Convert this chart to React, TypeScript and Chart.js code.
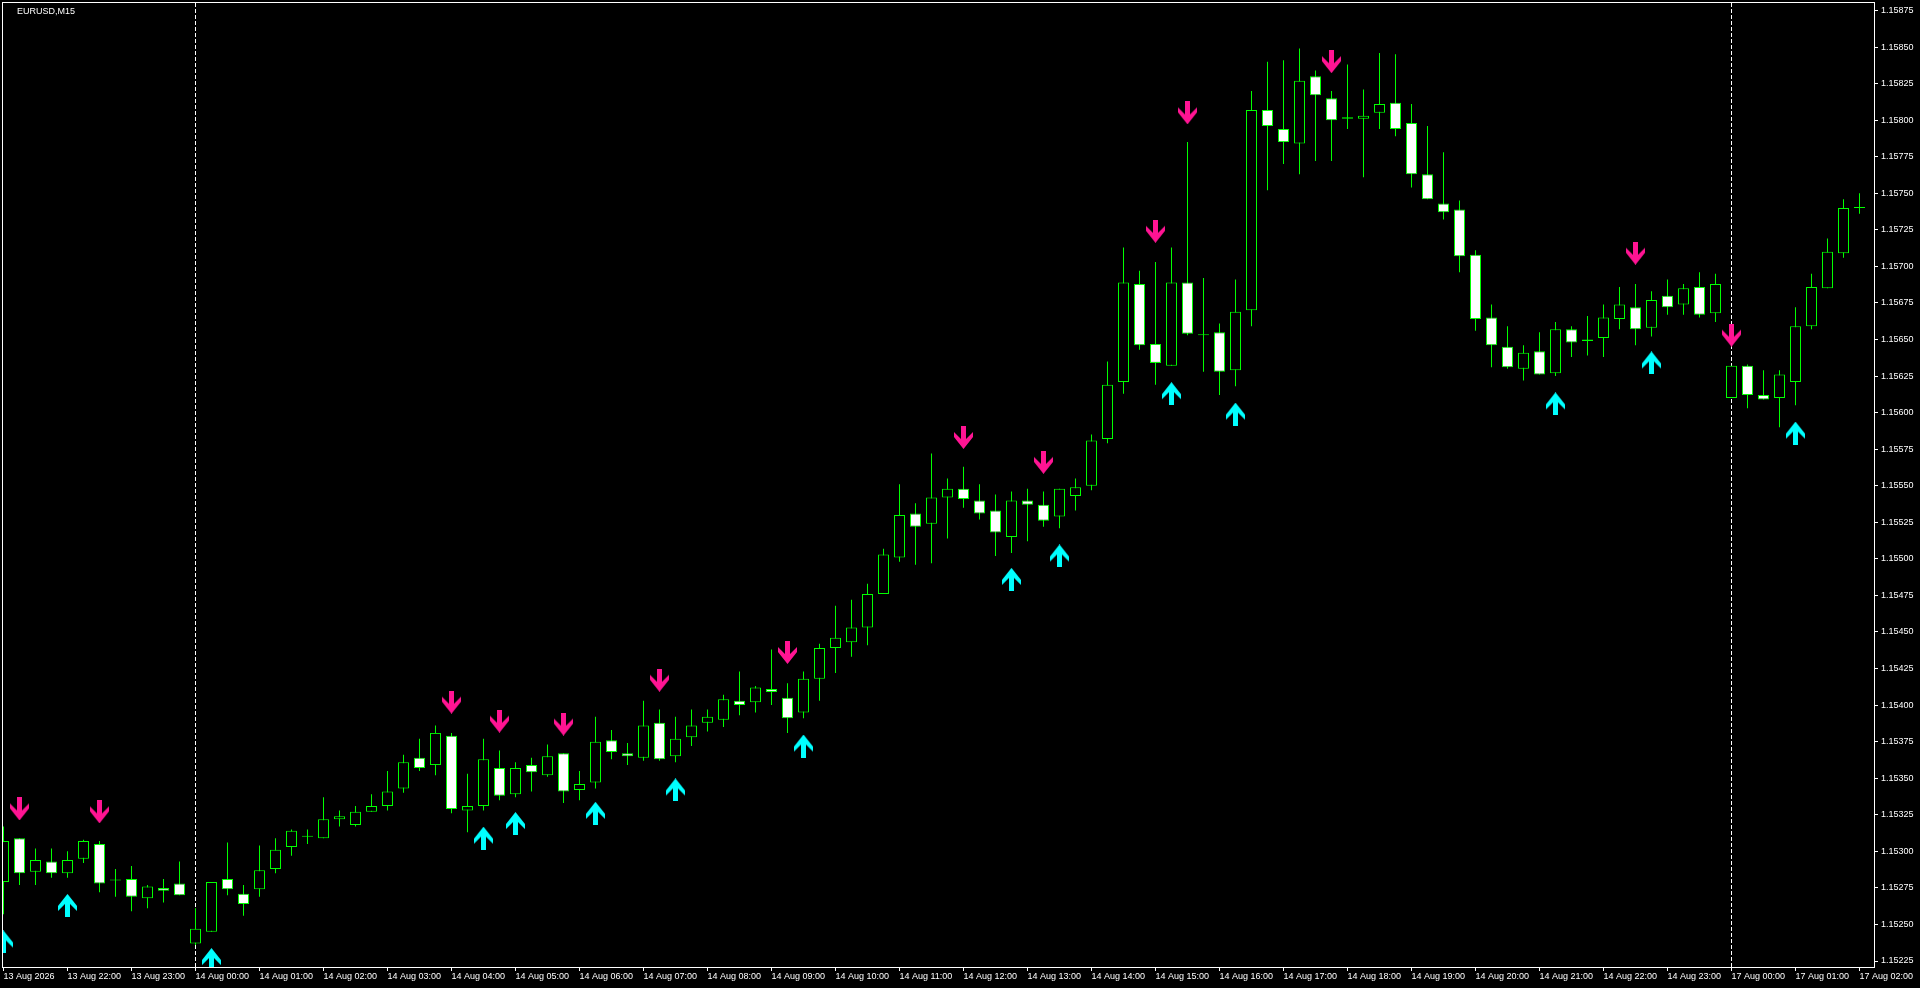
import React, { useEffect, useRef } from "react";
import { Chart, registerables } from "chart.js";

Chart.register(...registerables);

// ---- data (EURUSD M15, 13 Aug 2026 21:00 -> 17 Aug 2026 02:00) ----
const opens = [
  1.15279, 1.15309, 1.15286, 1.15293, 1.15285, 1.15295, 1.15305, 1.15280, 1.15281, 1.15268,
  1.15275, 1.15278, 1.15237, 1.15245, 1.15281, 1.15271, 1.15274, 1.15288, 1.15303, 1.15310,
  1.15309, 1.15322, 1.15318, 1.15327, 1.15331, 1.15343, 1.15364, 1.15359, 1.15379, 1.15328,
  1.15331, 1.15357, 1.15339, 1.15359, 1.15352, 1.15367, 1.15342, 1.15347, 1.15376, 1.15367,
  1.15364, 1.15388, 1.15365, 1.15378, 1.15388, 1.15390, 1.15403, 1.15402, 1.15411, 1.15405,
  1.15395, 1.15418, 1.15439, 1.15443, 1.15453, 1.15476, 1.15501, 1.15531, 1.15524, 1.15542,
  1.15548, 1.15540, 1.15533, 1.15515, 1.15540, 1.15537, 1.15529, 1.15543, 1.15550, 1.15582,
  1.15621, 1.15688, 1.15647, 1.15632, 1.15689, 1.15653, 1.15655, 1.15629, 1.15670, 1.15807,
  1.15794, 1.15784, 1.15830, 1.15815, 1.15801, 1.15801, 1.15805, 1.15812, 1.15798, 1.15763,
  1.15743, 1.15739, 1.15708, 1.15665, 1.15645, 1.15630, 1.15642, 1.15627, 1.15657, 1.15649,
  1.15651, 1.15664, 1.15672, 1.15658, 1.15680, 1.15674, 1.15686, 1.15668, 1.15610, 1.15632,
  1.15612, 1.15610, 1.15621, 1.15659, 1.15685, 1.15709, 1.15740,
];
const highs = [
  1.15317, 1.15309, 1.15302, 1.15302, 1.15300, 1.15308, 1.15307, 1.15288, 1.15290, 1.15277,
  1.15281, 1.15293, 1.15261, 1.15279, 1.15306, 1.15277, 1.15304, 1.15309, 1.15315, 1.15315,
  1.15337, 1.15328, 1.15331, 1.15339, 1.15355, 1.15366, 1.15377, 1.15386, 1.15381, 1.15353,
  1.15377, 1.15369, 1.15361, 1.15364, 1.15373, 1.15367, 1.15355, 1.15392, 1.15383, 1.15374,
  1.15403, 1.15397, 1.15392, 1.15397, 1.15397, 1.15407, 1.15423, 1.15413, 1.15438, 1.15415,
  1.15423, 1.15442, 1.15468, 1.15472, 1.15483, 1.15507, 1.15551, 1.15538, 1.15572, 1.15555,
  1.15563, 1.15551, 1.15544, 1.15546, 1.15548, 1.15546, 1.15548, 1.15555, 1.15585, 1.15635,
  1.15713, 1.15697, 1.15703, 1.15713, 1.15785, 1.15692, 1.15661, 1.15691, 1.15820, 1.15840,
  1.15841, 1.15849, 1.15834, 1.15820, 1.15838, 1.15821, 1.15846, 1.15845, 1.15811, 1.15796,
  1.15778, 1.15745, 1.15711, 1.15674, 1.15659, 1.15646, 1.15655, 1.15662, 1.15659, 1.15666,
  1.15674, 1.15686, 1.15688, 1.15683, 1.15691, 1.15688, 1.15696, 1.15695, 1.15632, 1.15633,
  1.15629, 1.15629, 1.15672, 1.15695, 1.15719, 1.15746, 1.15750,
];
const lows = [
  1.15257, 1.15277, 1.15277, 1.15282, 1.15282, 1.15292, 1.15272, 1.15269, 1.15259, 1.15261,
  1.15265, 1.15270, 1.15236, 1.15245, 1.15270, 1.15256, 1.15269, 1.15285, 1.15297, 1.15305,
  1.15309, 1.15317, 1.15317, 1.15327, 1.15328, 1.15340, 1.15355, 1.15352, 1.15326, 1.15313,
  1.15328, 1.15335, 1.15337, 1.15341, 1.15351, 1.15333, 1.15335, 1.15343, 1.15363, 1.15359,
  1.15362, 1.15362, 1.15361, 1.15372, 1.15382, 1.15385, 1.15393, 1.15395, 1.15400, 1.15381,
  1.15391, 1.15403, 1.15422, 1.15433, 1.15441, 1.15476, 1.15498, 1.15496, 1.15497, 1.15514,
  1.15535, 1.15527, 1.15502, 1.15504, 1.15512, 1.15522, 1.15521, 1.15533, 1.15547, 1.15579,
  1.15613, 1.15643, 1.15619, 1.15632, 1.15653, 1.15628, 1.15612, 1.15618, 1.15659, 1.15752,
  1.15770, 1.15763, 1.15772, 1.15772, 1.15794, 1.15761, 1.15794, 1.15789, 1.15754, 1.15746,
  1.15732, 1.15696, 1.15656, 1.15631, 1.15630, 1.15622, 1.15626, 1.15625, 1.15638, 1.15639,
  1.15638, 1.15657, 1.15646, 1.15652, 1.15667, 1.15667, 1.15665, 1.15662, 1.15610, 1.15603,
  1.15609, 1.15590, 1.15605, 1.15657, 1.15685, 1.15706, 1.15736,
];
const closes = [
  1.15307, 1.15285, 1.15294, 1.15285, 1.15294, 1.15307, 1.15278, 1.15280, 1.15269, 1.15276,
  1.15273, 1.15270, 1.15247, 1.15279, 1.15274, 1.15264, 1.15287, 1.15301, 1.15314, 1.15310,
  1.15322, 1.15324, 1.15327, 1.15331, 1.15341, 1.15361, 1.15357, 1.15381, 1.15329, 1.15331,
  1.15363, 1.15338, 1.15357, 1.15354, 1.15365, 1.15341, 1.15346, 1.15375, 1.15368, 1.15365,
  1.15386, 1.15363, 1.15377, 1.15386, 1.15392, 1.15404, 1.15400, 1.15412, 1.15409, 1.15391,
  1.15418, 1.15439, 1.15446, 1.15453, 1.15476, 1.15503, 1.15530, 1.15522, 1.15542, 1.15548,
  1.15541, 1.15531, 1.15518, 1.15540, 1.15537, 1.15526, 1.15548, 1.15549, 1.15581, 1.15619,
  1.15689, 1.15646, 1.15634, 1.15689, 1.15654, 1.15653, 1.15628, 1.15669, 1.15807, 1.15796,
  1.15785, 1.15827, 1.15817, 1.15800, 1.15802, 1.15803, 1.15811, 1.15794, 1.15763, 1.15746,
  1.15737, 1.15707, 1.15664, 1.15646, 1.15631, 1.15641, 1.15626, 1.15657, 1.15648, 1.15650,
  1.15665, 1.15674, 1.15657, 1.15677, 1.15672, 1.15685, 1.15667, 1.15688, 1.15632, 1.15612,
  1.15609, 1.15626, 1.15659, 1.15686, 1.15710, 1.15740, 1.15740,
];

const xTickIndex = [
  0, 4, 8, 12, 16, 20, 24, 28, 32, 36, 40, 44, 48, 52, 56,
  60, 64, 68, 72, 76, 80, 84, 88, 92, 96, 100, 104, 108, 112, 116,
];
const xTickLabels = [
  "13 Aug 2026", "13 Aug 22:00", "13 Aug 23:00", "14 Aug 00:00", "14 Aug 01:00",
  "14 Aug 02:00", "14 Aug 03:00", "14 Aug 04:00", "14 Aug 05:00", "14 Aug 06:00",
  "14 Aug 07:00", "14 Aug 08:00", "14 Aug 09:00", "14 Aug 10:00", "14 Aug 11:00",
  "14 Aug 12:00", "14 Aug 13:00", "14 Aug 14:00", "14 Aug 15:00", "14 Aug 16:00",
  "14 Aug 17:00", "14 Aug 18:00", "14 Aug 19:00", "14 Aug 20:00", "14 Aug 21:00",
  "14 Aug 22:00", "14 Aug 23:00", "17 Aug 00:00", "17 Aug 01:00", "17 Aug 02:00",
];
const yTicks = [
  1.15225, 1.1525, 1.15275, 1.153, 1.15325, 1.1535, 1.15375, 1.154, 1.15425,
  1.1545, 1.15475, 1.155, 1.15525, 1.1555, 1.15575, 1.156, 1.15625, 1.1565,
  1.15675, 1.157, 1.15725, 1.1575, 1.15775, 1.158, 1.15825, 1.1585, 1.15875,
];
const daySeparators = [12, 108];

const downArrowIdx = [1, 6, 28, 31, 35, 41, 49, 60, 65, 72, 74, 83, 102, 108];
const downArrowPrice = [
  1.15329, 1.15327, 1.15402, 1.15389, 1.15387, 1.15417, 1.15436, 1.15583, 1.15566,
  1.15724, 1.15805, 1.1584, 1.15709, 1.15653,
];
const upArrowIdx = [0, 4, 13, 30, 32, 37, 42, 50, 63, 66, 73, 77, 97, 103, 112];
const upArrowPrice = [
  1.15238, 1.15263, 1.15226, 1.15309, 1.15319, 1.15326, 1.15342, 1.15372, 1.15486,
  1.15502, 1.15613, 1.15599, 1.15606, 1.15634, 1.15586,
];

const symbolTitle = "EURUSD,M15";

const X_MIN = -0.03125;
const X_MAX = 116.90625;
const Y_MIN = 1.152209;
const Y_MAX = 1.1588013;

const GREEN = "#00ff00";
const PINK = "#ff1493";
const CYAN = "#00ffff";
const FONT = "Liberation Sans";

function makeArrow(color: string, up: boolean): HTMLCanvasElement {
  const c = document.createElement("canvas");
  c.width = 19;
  c.height = 23;
  const ctx = c.getContext("2d")!;
  const pts: [number, number][] = [
    [7, 0], [12, 0], [12, 13], [19, 6], [19, 11], [9.5, 23], [0, 11], [0, 6], [7, 13],
  ];
  ctx.fillStyle = color;
  ctx.beginPath();
  pts.forEach(([px, py], i) => {
    const yy = up ? 23 - py : py;
    if (i === 0) ctx.moveTo(px, yy);
    else ctx.lineTo(px, yy);
  });
  ctx.closePath();
  ctx.fill();
  return c;
}

const mtPlugin = {
  id: "mtDecor",
  beforeDraw(chart: any) {
    const ctx = chart.ctx;
    ctx.save();
    ctx.fillStyle = "#000000";
    ctx.fillRect(0, 0, chart.width, chart.height);
    ctx.restore();
  },
  beforeDatasetsDraw(chart: any) {
    const ctx = chart.ctx;
    const a = chart.chartArea;
    const xs = chart.scales.x;
    ctx.save();
    ctx.strokeStyle = "#ffffff";
    ctx.lineWidth = 1;
    ctx.setLineDash([4, 2]);
    daySeparators.forEach((k) => {
      const px = Math.floor(xs.getPixelForValue(k)) + 0.5;
      ctx.beginPath();
      ctx.moveTo(px, a.top);
      ctx.lineTo(px, a.bottom);
      ctx.stroke();
    });
    ctx.restore();
  },
  afterDraw(chart: any) {
    const ctx = chart.ctx;
    const a = chart.chartArea;
    ctx.save();
    ctx.strokeStyle = "#ffffff";
    ctx.lineWidth = 1;
    ctx.strokeRect(a.left - 0.5, a.top - 0.5, a.right - a.left + 1, a.bottom - a.top + 1);
    ctx.fillStyle = "#ffffff";
    ctx.font = `9px "${FONT}"`;
    ctx.textBaseline = "middle";
    ctx.textAlign = "left";
    ctx.fillText(symbolTitle, 17, 12);
    ctx.restore();
  },
};

export default function App() {
  const canvasRef = useRef<HTMLCanvasElement | null>(null);

  useEffect(() => {
    document.body.style.margin = "0";
    document.body.style.background = "#000000";
    const canvas = canvasRef.current;
    if (!canvas) return;

    const downImg = makeArrow(PINK, false);
    const upImg = makeArrow(CYAN, true);

    const bodyData = opens.map((o, i) => ({ x: i, y: [o, closes[i]] }));
    const bodyColors = opens.map((o, i) => (closes[i] >= o ? "#000000" : "#ffffff"));
    const wickData = lows.map((l, i) => ({ x: i, y: [l, highs[i]] }));
    const downData = downArrowIdx.map((k, i) => ({ x: k, y: downArrowPrice[i] }));
    const upData = upArrowIdx.map((k, i) => ({ x: k, y: upArrowPrice[i] }));

    const chart = new Chart(canvas, {
      type: "bar",
      data: {
        datasets: [
          {
            type: "scatter",
            data: downData,
            pointStyle: downImg,
            pointRadius: 10,
            order: -2,
          } as any,
          {
            type: "scatter",
            data: upData,
            pointStyle: upImg,
            pointRadius: 10,
            order: -1,
          } as any,
          {
            type: "bar",
            data: bodyData,
            backgroundColor: bodyColors,
            borderColor: GREEN,
            borderWidth: 1,
            borderSkipped: false,
            barThickness: 11,
            minBarLength: 1,
            grouped: false,
            inflateAmount: 0,
            order: 0,
          } as any,
          {
            type: "bar",
            data: wickData,
            backgroundColor: GREEN,
            borderWidth: 0,
            barThickness: 1,
            grouped: false,
            inflateAmount: 0,
            order: 1,
          } as any,
        ],
      },
      options: {
        animation: false,
        responsive: false,
        devicePixelRatio: 1,
        events: [],
        layout: { autoPadding: false, padding: { left: 3, top: 3, right: 0, bottom: 0 } },
        plugins: {
          legend: { display: false },
          tooltip: { enabled: false },
          title: { display: false },
        },
        scales: {
          x: {
            type: "linear",
            position: "bottom",
            min: X_MIN,
            max: X_MAX,
            offset: false,
            border: { display: false },
            grid: {
              display: true,
              drawOnChartArea: false,
              drawTicks: true,
              tickLength: 4,
              color: "#ffffff",
              offset: false,
            },
            ticks: {
              color: "#ffffff",
              font: { family: FONT, size: 9 },
              padding: 0,
              align: "start",
              autoSkip: false,
              maxRotation: 0,
              minRotation: 0,
              callback: (_v: any, i: number) => xTickLabels[i] ?? "",
            },
            afterBuildTicks: (scale: any) => {
              scale.ticks = xTickIndex.map((v) => ({ value: v }));
            },
            afterFit: (scale: any) => {
              scale.height = 21;
              scale.paddingLeft = 0;
              scale.paddingRight = 0;
            },
          } as any,
          y: {
            type: "linear",
            position: "right",
            min: Y_MIN,
            max: Y_MAX,
            border: { display: false },
            grid: {
              display: true,
              drawOnChartArea: false,
              drawTicks: true,
              tickLength: 4,
              color: "#ffffff",
            },
            ticks: {
              color: "#ffffff",
              font: { family: FONT, size: 9 },
              padding: 3,
              autoSkip: false,
              callback: (v: any) => Number(v).toFixed(5),
            },
            afterBuildTicks: (scale: any) => {
              scale.ticks = yTicks.map((v) => ({ value: v }));
            },
            afterFit: (scale: any) => {
              scale.width = 46;
              scale.paddingTop = 0;
              scale.paddingBottom = 0;
            },
          } as any,
        },
      },
      plugins: [mtPlugin],
    } as any);

    return () => {
      chart.destroy();
    };
  }, []);

  return (
    <div style={{ width: 1920, height: 988, background: "#000000" }}>
      <canvas ref={canvasRef} width={1920} height={988} style={{ display: "block" }} />
    </div>
  );
}
